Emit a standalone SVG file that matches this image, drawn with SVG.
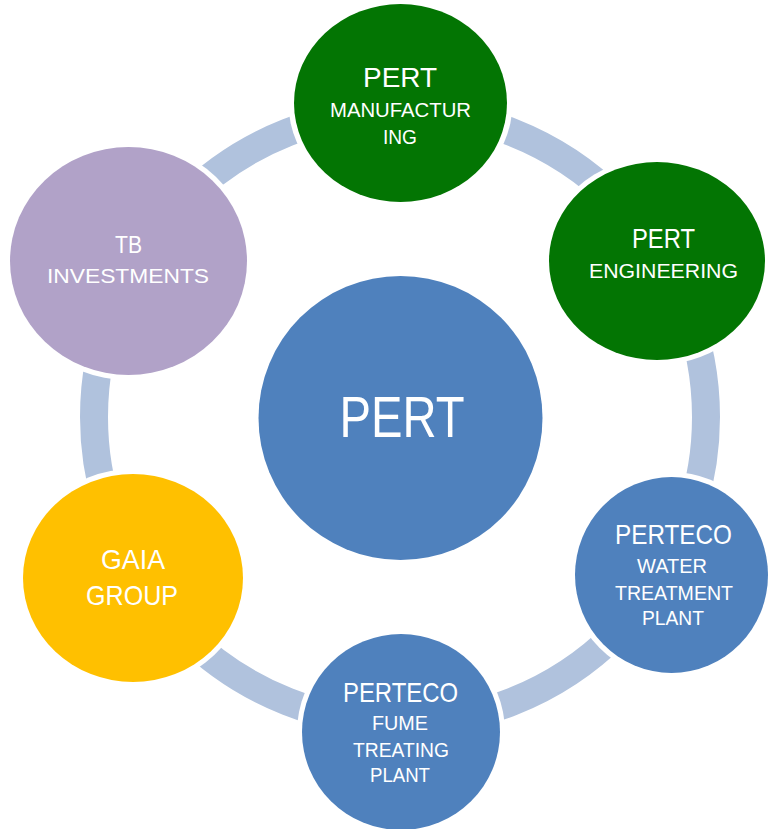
<svg xmlns="http://www.w3.org/2000/svg" width="769" height="829" viewBox="0 0 769 829">
<style>
.ring{fill:none;stroke:#b0c2dd;stroke-width:28}
.halo{fill:#ffffff}
.green{fill:#037503}
.blue{fill:#4f81bd}
.purple{fill:#b1a2c8}
.gold{fill:#ffc000}
text{font-family:"Liberation Sans",Arial,sans-serif;fill:#ffffff;text-anchor:middle}
.t1{font-size:28px}
.t2{font-size:20px}
</style>
<g id="connectors">
<circle class="ring" cx="400" cy="417" r="306"/>
</g>
<g id="center">
<circle class="blue" cx="400.5" cy="418" r="142"/>
<text x="402" y="437" style="font-size:58px" textLength="125" lengthAdjust="spacingAndGlyphs">PERT</text>
</g>
<g id="manufacturing">
<ellipse class="halo" cx="400.5" cy="103" rx="112" ry="104"/>
<ellipse class="green" cx="400.5" cy="103" rx="106.5" ry="99"/>
<text class="t1" x="400" y="87" textLength="74" lengthAdjust="spacingAndGlyphs">PERT</text>
<text class="t2" x="400.5" y="117" textLength="141" lengthAdjust="spacingAndGlyphs">MANUFACTUR</text>
<text class="t2" x="400" y="144" textLength="34" lengthAdjust="spacingAndGlyphs">ING</text>
</g>
<g id="engineering">
<ellipse class="halo" cx="657" cy="261" rx="113" ry="104"/>
<ellipse class="green" cx="657" cy="261" rx="108" ry="99"/>
<text class="t1" x="663.5" y="248" textLength="63" lengthAdjust="spacingAndGlyphs">PERT</text>
<text class="t2" x="663.5" y="278" textLength="149" lengthAdjust="spacingAndGlyphs">ENGINEERING</text>
</g>
<g id="water">
<ellipse class="halo" cx="671.5" cy="575" rx="102" ry="103"/>
<ellipse class="blue" cx="671.5" cy="575" rx="96.5" ry="98"/>
<text class="t1" x="673.5" y="544" textLength="117" lengthAdjust="spacingAndGlyphs">PERTECO</text>
<text class="t2" x="672" y="573" textLength="70" lengthAdjust="spacingAndGlyphs">WATER</text>
<text class="t2" x="674" y="600" textLength="118" lengthAdjust="spacingAndGlyphs">TREATMENT</text>
<text class="t2" x="673" y="625" textLength="62" lengthAdjust="spacingAndGlyphs">PLANT</text>
</g>
<g id="fume">
<ellipse class="halo" cx="401" cy="732" rx="104" ry="103"/>
<ellipse class="blue" cx="401" cy="732" rx="99" ry="98"/>
<text class="t1" x="400.5" y="702" textLength="115" lengthAdjust="spacingAndGlyphs">PERTECO</text>
<text class="t2" x="400" y="730" textLength="56" lengthAdjust="spacingAndGlyphs">FUME</text>
<text class="t2" x="401" y="757" textLength="96" lengthAdjust="spacingAndGlyphs">TREATING</text>
<text class="t2" x="400" y="782" textLength="60" lengthAdjust="spacingAndGlyphs">PLANT</text>
</g>
<g id="gaia">
<ellipse class="halo" cx="133" cy="578" rx="115" ry="109"/>
<ellipse class="gold" cx="133" cy="578" rx="110" ry="104"/>
<text class="t1" x="133" y="569" textLength="64" lengthAdjust="spacingAndGlyphs">GAIA</text>
<text class="t1" x="132" y="605" textLength="92" lengthAdjust="spacingAndGlyphs">GROUP</text>
</g>
<g id="tb">
<ellipse class="halo" cx="128.5" cy="261" rx="123.5" ry="119"/>
<ellipse class="purple" cx="128.5" cy="261" rx="118.5" ry="114"/>
<text class="t2" x="128.5" y="253" style="font-size:24px" textLength="27" lengthAdjust="spacingAndGlyphs">TB</text>
<text class="t2" x="128" y="283" style="font-size:21px" textLength="162" lengthAdjust="spacingAndGlyphs">INVESTMENTS</text>
</g>
</svg>
